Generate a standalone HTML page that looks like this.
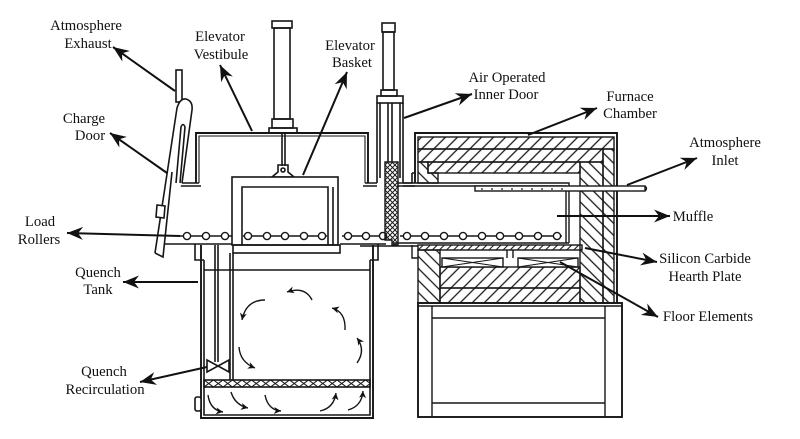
<!DOCTYPE html>
<html><head><meta charset="utf-8"><style>
html,body{margin:0;padding:0;background:#fff;}
svg{display:block}
text{font-family:"Liberation Serif",serif;font-size:14.7px;fill:#111;}
</style></head><body>
<svg width="800" height="439" viewBox="0 0 800 439" xmlns="http://www.w3.org/2000/svg">
<defs>
<marker id="ah" markerWidth="20" markerHeight="16" viewBox="-18 -8 20 16" refX="0" refY="0" orient="auto" markerUnits="userSpaceOnUse">
  <path d="M0,0 L-16,-6.5 L-11,0 L-16,6.5 Z" fill="#111"/>
</marker>
<marker id="sa" markerWidth="10" markerHeight="10" viewBox="-9 -5 10 10" refX="0" refY="0" orient="auto" markerUnits="userSpaceOnUse">
  <path d="M0,0 L-7,-3.5 L-5,0 L-7,3.5 Z" fill="#111"/>
</marker>
<pattern id="hf" width="8.5" height="8.5" patternUnits="userSpaceOnUse" patternTransform="rotate(45)">
  <line x1="4" y1="0" x2="4" y2="8.5" stroke="#1a1a1a" stroke-width="1.3"/>
</pattern>
<pattern id="hb" width="8.5" height="8.5" patternUnits="userSpaceOnUse" patternTransform="rotate(-45)">
  <line x1="4" y1="0" x2="4" y2="8.5" stroke="#1a1a1a" stroke-width="1.3"/>
</pattern>
<pattern id="hs" width="5" height="5" patternUnits="userSpaceOnUse" patternTransform="rotate(45)">
  <line x1="2.5" y1="0" x2="2.5" y2="5" stroke="#1a1a1a" stroke-width="1.1"/>
</pattern>
<pattern id="xh" width="5" height="5" patternUnits="userSpaceOnUse">
  <path d="M0,0 L5,5 M5,0 L0,5" stroke="#1a1a1a" stroke-width="1"/>
</pattern>
<pattern id="gr" width="9.5" height="7" patternUnits="userSpaceOnUse" x="204" y="380">
  <path d="M0,0 L9.5,7 M0,7 L9.5,0" stroke="#1a1a1a" stroke-width="1.1"/>
</pattern>
</defs>

<g fill="none" stroke="#161616" stroke-width="1.6">
<!-- Elevator cylinder -->
<rect x="272" y="21" width="20" height="7"/>
<rect x="274" y="28" width="16" height="91"/>
<rect x="272" y="119" width="21" height="9"/>
<rect x="269" y="128" width="28" height="5"/>
<line x1="282" y1="133" x2="282" y2="166"/><line x1="285" y1="133" x2="285" y2="166"/>
<path d="M278,165 h10 v7 l6,5 h-22 l6,-5 z"/>
<circle cx="283" cy="170" r="2"/>

<!-- Vestibule -->
<path d="M196,183 V133 H368 V183" stroke-width="1.9"/>
<path d="M199,183 V136 H365 V183" stroke-width="1.1"/>
<path d="M176,183 H199 M176,186 H201"/>
<path d="M365,183 H377 M363,186 H377"/>

<!-- Exhaust pipe & charge door -->
<rect x="176" y="70" width="6" height="32" fill="#fff"/>
<path d="M155,253 L177,108 Q180,98 186,99 Q193,101 192,110 L182,183" fill="#fff"/>
<path d="M176,183 L181,127 Q183,122 185,127 L180,183"/>
<path d="M172,172 L163,257 L155,253"/>
<path d="M157,205 L165,206 L164,218 L156,217 Z" fill="#fff"/>

<!-- Inner door cylinder and housing -->
<rect x="382" y="23" width="13" height="9"/>
<rect x="383" y="32" width="11" height="58"/>
<rect x="381" y="90" width="16" height="6"/>
<rect x="377" y="96" width="26" height="7"/>
<path d="M377,103 V183 M403,103 V183 M380,103 V178 M400,103 V178"/>
<path d="M388,103 V162 M392,103 V162"/>
<path d="M403,183 H412 V173 M403,186 H415 M412,173 H415"/>

<!-- Basket -->
<rect x="232" y="177" width="106" height="68" fill="#fff"/>
<path d="M242,245 V187 H328 V245 M333,187 V245"/>
<rect x="233" y="245" width="107" height="8"/>

<!-- Roller platform lines -->
<path d="M165,244 H232 M340,244 H386 M393,243 H569 M360,246 H418"/>
<line x1="180" y1="236" x2="232" y2="236"/>
<line x1="243" y1="236" x2="327" y2="236"/>
<line x1="342" y1="236" x2="386" y2="236"/>
<line x1="400" y1="236" x2="562" y2="236"/>
</g>

<!-- Rollers -->
<g fill="#fff" stroke="#161616" stroke-width="1.4">
<circle cx="187" cy="236" r="3.6"/><circle cx="206" cy="236" r="3.6"/><circle cx="225" cy="236" r="3.6"/>
<circle cx="248" cy="236" r="3.6"/><circle cx="267" cy="236" r="3.6"/><circle cx="285" cy="236" r="3.6"/><circle cx="304" cy="236" r="3.6"/><circle cx="322" cy="236" r="3.6"/>
<circle cx="348" cy="236" r="3.6"/><circle cx="366" cy="236" r="3.6"/><circle cx="383" cy="236" r="3.6"/>
<circle cx="407" cy="236" r="3.6"/><circle cx="425" cy="236" r="3.6"/><circle cx="444" cy="236" r="3.6"/><circle cx="463" cy="236" r="3.6"/><circle cx="482" cy="236" r="3.6"/><circle cx="500" cy="236" r="3.6"/><circle cx="519" cy="236" r="3.6"/><circle cx="538" cy="236" r="3.6"/><circle cx="557" cy="236" r="3.6"/>
</g>

<!-- Inner door (crosshatched) -->
<path d="M385,162 H398 V245 H392 V240 H385 Z" fill="url(#xh)" stroke="#161616" stroke-width="1.4"/>

<!-- Furnace -->
<g stroke="#161616" stroke-width="1.4">
<path d="M415,183 V133 H617 V303" fill="none" stroke-width="1.9"/>
<rect x="418" y="137" width="196" height="12" fill="url(#hf)"/>
<rect x="418" y="149" width="185" height="13" fill="url(#hf)"/>
<rect x="428" y="162" width="152" height="11" fill="url(#hf)"/>
<path d="M418,162 H428 V173 H438 V183 H418 Z" fill="url(#hb)"/>
<rect x="603" y="149" width="11" height="154" fill="url(#hb)"/>
<rect x="580" y="162" width="23" height="141" fill="url(#hb)"/>
<path d="M397,183 H569 V243 M397,186 H566 V243" fill="none"/>
<rect x="475" y="186" width="170" height="5" fill="#fff"/>
<path d="M645,186 q3,2.5 0,5" fill="none"/>
<rect x="418" y="245" width="164" height="5" fill="url(#hs)"/>
<rect x="418" y="250" width="22" height="53" fill="url(#hb)"/>
<rect x="440" y="267" width="140" height="21" fill="url(#hf)"/>
<rect x="440" y="288" width="140" height="15" fill="url(#hf)"/>
<rect x="442" y="258" width="61" height="9" fill="#fff"/>
<path d="M442,258 L503,267 M442,267 L503,258" stroke-width="1"/>
<rect x="518" y="258" width="60" height="9" fill="#fff"/>
<path d="M518,258 L578,267 M518,267 L578,258" stroke-width="1"/>
<path d="M507,250 V258 M513,250 V258" fill="none"/>
<path d="M412,245 V258 H418" fill="none"/>
<rect x="418" y="303" width="204" height="114" fill="none" stroke-width="1.9"/>
<path d="M418,306 H622 M432,306 V417 M605,306 V417 M432,318 H605 M432,403 H605" fill="none"/>
</g>
<g fill="#111">
<circle cx="482" cy="189" r="0.9"/><circle cx="492" cy="189" r="0.9"/><circle cx="502" cy="189" r="0.9"/><circle cx="512" cy="189" r="0.9"/><circle cx="522" cy="189" r="0.9"/><circle cx="532" cy="189" r="0.9"/><circle cx="542" cy="189" r="0.9"/><circle cx="552" cy="189" r="0.9"/><circle cx="562" cy="189" r="0.9"/>
</g>

<!-- Quench tank -->
<g fill="none" stroke="#161616" stroke-width="1.6">
<path d="M201,245 V418 H373 V245" stroke-width="1.9"/>
<path d="M204,260 V415 H370 V260"/>
<path d="M195,244 V260 H204 M378,244 V260 H370"/>
<line x1="204" y1="270" x2="370" y2="270"/>
<path d="M215,245 V362 M218,245 V362"/>
<path d="M230,253 V380 M233,253 V380"/>
<path d="M207,360 L218,366 L207,372 Z M229,360 L218,366 L229,372 Z" fill="#fff"/>
<rect x="204" y="380" width="166" height="7" fill="url(#gr)"/>
<rect x="195" y="397" width="6" height="14" rx="2" fill="#fff"/>
</g>

<!-- circulation arrows -->
<g fill="none" stroke="#161616" stroke-width="1.4" marker-end="url(#sa)">
<path d="M265,300 Q246,300 242,320"/>
<path d="M312,300 Q305,286 287,292"/>
<path d="M345,330 Q346,312 332,308"/>
<path d="M357,363 Q366,350 357,338"/>
<path d="M239,347 Q240,362 255,368"/>
<path d="M208,395 Q210,410 223,412"/>
<path d="M231,392 Q235,405 248,408"/>
<path d="M265,395 Q268,410 281,411"/>
<path d="M320,411 Q334,408 336,393"/>
<path d="M348,410 Q362,406 363,391"/>
</g>

<!-- Leader arrows -->
<g fill="none" stroke="#111" stroke-width="2" marker-end="url(#ah)">
<line x1="175" y1="91" x2="113" y2="47"/>
<line x1="167" y1="173" x2="110" y2="133"/>
<line x1="252" y1="131" x2="220" y2="65"/>
<line x1="303" y1="175" x2="347" y2="72"/>
<line x1="404" y1="118" x2="472" y2="94"/>
<line x1="528" y1="135" x2="597" y2="108"/>
<line x1="627" y1="185" x2="697" y2="158"/>
<line x1="557" y1="216" x2="670" y2="216"/>
<line x1="585" y1="248" x2="657" y2="262"/>
<line x1="560" y1="262" x2="658" y2="317"/>
<line x1="180" y1="236" x2="67" y2="233"/>
<line x1="198" y1="282" x2="123" y2="282"/>
<line x1="207" y1="367" x2="140" y2="382"/>
</g>

<!-- Labels -->
<g text-anchor="middle">
<text x="86" y="30">Atmosphere</text><text x="88" y="48">Exhaust</text>
<text x="84" y="123">Charge</text><text x="90" y="140">Door</text>
<text x="220" y="41">Elevator</text><text x="221" y="59">Vestibule</text>
<text x="350" y="50">Elevator</text><text x="352" y="67">Basket</text>
<text x="507" y="82">Air Operated</text><text x="506" y="99">Inner Door</text>
<text x="630" y="101">Furnace</text><text x="630" y="118">Chamber</text>
<text x="725" y="147">Atmosphere</text><text x="725" y="165">Inlet</text>
<text x="693" y="221">Muffle</text>
<text x="705" y="263">Silicon Carbide</text><text x="705" y="281">Hearth Plate</text>
<text x="708" y="321">Floor Elements</text>
<text x="40" y="226">Load</text><text x="39" y="244">Rollers</text>
<text x="98" y="277">Quench</text><text x="98" y="294">Tank</text>
<text x="104" y="376">Quench</text><text x="105" y="394">Recirculation</text>
</g>
</svg>
</body></html>
